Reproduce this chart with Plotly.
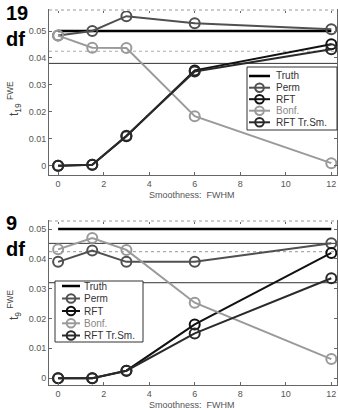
import plotly.graph_objects as go

fwhm = [0, 1.5, 3, 6, 12]

# Top panel (19 df)
top_truth = [0.05, 0.05]
top_perm = [0.0483, 0.050, 0.0555, 0.0529, 0.0507]
top_rft = [0.0, 0.0004, 0.0110, 0.0354, 0.0451]
top_bonf = [0.0483, 0.0438, 0.0437, 0.0184, 0.0010]
top_rfttr = [0.0, 0.0004, 0.0112, 0.0350, 0.0432]
top_ref_solid = [0.038]
top_ref_dotted = [0.0425, 0.0578]

# Bottom panel (9 df)
bot_truth = [0.05, 0.05]
bot_perm = [0.0390, 0.0428, 0.0390, 0.0390, 0.0452]
bot_rft = [0.0, 0.0, 0.0025, 0.0180, 0.0420]
bot_bonf = [0.0432, 0.0470, 0.0430, 0.0253, 0.0064]
bot_rfttr = [0.0, 0.0, 0.0025, 0.0150, 0.0335]
bot_ref_solid = [0.0452, 0.032]
bot_ref_dotted = [0.0424]

truth_x = [0, 12]
names = ["Truth", "Perm", "RFT", "Bonf.", "RFT Tr.Sm."]
colors = ["#000000", "#505050", "#111111", "#9a9a9a", "#2a2a2a"]

W, H = 338, 410
def px_x(p): return p / W
def px_y(p): return 1 - p / H

fig = go.Figure()

def add_panel(xa, ya, truth, series):
    fig.add_trace(go.Scatter(x=truth_x, y=truth, mode="lines", name=names[0],
                             line=dict(color=colors[0], width=2.5),
                             xaxis=xa, yaxis=ya, showlegend=False))
    for nm, col, ys in zip(names[1:], colors[1:], series):
        fig.add_trace(go.Scatter(x=fwhm, y=ys, mode="lines+markers", name=nm,
                                 line=dict(color=col, width=2),
                                 marker=dict(symbol="circle-open", size=10, color=col,
                                             line=dict(width=2, color=col)),
                                 xaxis=xa, yaxis=ya, showlegend=False))

add_panel("x", "y", top_truth, [top_perm, top_rft, top_bonf, top_rfttr])
add_panel("x2", "y2", bot_truth, [bot_perm, bot_rft, bot_bonf, bot_rfttr])

shapes = []
def hline(yv, xref, yref, dash, color, width=1):
    shapes.append(dict(type="line", xref=xref + " domain", yref=yref, x0=0, x1=1,
                       y0=yv, y1=yv, line=dict(color=color, width=width, dash=dash),
                       layer="below"))
for v in top_ref_solid:
    hline(v, "x", "y", "solid", "#333333", 1)
for v in top_ref_dotted:
    hline(v, "x", "y", "dot", "#aaaaaa", 1.2)
for v in bot_ref_solid:
    hline(v, "x2", "y2", "solid", "#333333", 1)
for v in bot_ref_dotted:
    hline(v, "x2", "y2", "dot", "#aaaaaa", 1.2)

# top borders shown dotted
for xr, yr in [("x domain", "y domain"), ("x2 domain", "y2 domain")]:
    shapes.append(dict(type="line", xref=xr, yref=yr, x0=0, x1=1, y0=1, y1=1,
                       line=dict(color="white", width=2), layer="above"))
    shapes.append(dict(type="line", xref=xr, yref=yr, x0=0, x1=1, y0=1, y1=1,
                       line=dict(color="#999999", width=1.2, dash="dot"), layer="above"))

legfont = dict(family="Liberation Sans, Arial", size=10, color="#222222")
annotations = []

def draw_legend(box, rows_y, line_x, text_x):
    x0, y0, x1, y1 = box
    shapes.append(dict(type="rect", xref="paper", yref="paper",
                       x0=px_x(x0), x1=px_x(x1), y0=px_y(y1), y1=px_y(y0),
                       fillcolor="white", line=dict(color="#333333", width=1), layer="above"))
    for i, (nm, col) in enumerate(zip(names, colors)):
        ry = rows_y[i]
        shapes.append(dict(type="line", xref="paper", yref="paper",
                           x0=px_x(line_x[0]), x1=px_x(line_x[1]), y0=px_y(ry), y1=px_y(ry),
                           line=dict(color=col, width=2.5 if i == 0 else 2), layer="above"))
        if i > 0:
            cx = (line_x[0] + line_x[1]) / 2
            r = 4.3
            shapes.append(dict(type="circle", xref="paper", yref="paper",
                               x0=px_x(cx - r), x1=px_x(cx + r), y0=px_y(ry + r), y1=px_y(ry - r),
                               line=dict(color=col, width=2), fillcolor="rgba(0,0,0,0)",
                               layer="above"))
        annotations.append(dict(text=nm, x=px_x(text_x), y=px_y(ry), xanchor="left",
                                yanchor="middle", font=dict(legfont, color="#333333" if i != 3 else "#888888")))

draw_legend((247, 67, 337, 130), [76, 87.7, 99.2, 110.7, 122.3], (249, 270), 274)
draw_legend((55, 281, 143, 342), [286, 298.5, 311, 323.3, 335.5], (62, 80), 82)

xdom = [px_x(49), px_x(337)]
top_dom = [px_y(175), px_y(10)]
bot_dom = [px_y(385), px_y(221)]

axfont = dict(family="Liberation Sans, Arial", size=9, color="#555555")
common_x = dict(range=[-0.4, 12.25], tickvals=[0, 2, 4, 6, 8, 10, 12], ticks="inside",
                ticklen=3, tickcolor="#666666", showline=True, linecolor="#666666",
                linewidth=1, mirror="ticks", showgrid=False, zeroline=False,
                tickfont=axfont, domain=xdom)
common_y = dict(tickvals=[0, 0.01, 0.02, 0.03, 0.04, 0.05],
                ticktext=["0", "0.01", "0.02", "0.03", "0.04", "0.05"],
                ticks="inside", ticklen=3, tickcolor="#666666", showline=True,
                linecolor="#666666", linewidth=1, mirror="ticks", showgrid=False,
                zeroline=False, tickfont=axfont)

big = dict(family="Liberation Sans, Arial", size=20, color="black")
yt_font = dict(family="Liberation Sans, Arial", size=12, color="#444444")
annotations += [
    dict(text="<b>19</b>", x=px_x(4), y=px_y(0), xanchor="left", yanchor="top", font=big),
    dict(text="<b>df</b>", x=px_x(4), y=px_y(26), xanchor="left", yanchor="top", font=big),
    dict(text="<b>9</b>", x=px_x(4), y=px_y(210), xanchor="left", yanchor="top", font=big),
    dict(text="<b>df</b>", x=px_x(4), y=px_y(236), xanchor="left", yanchor="top", font=big),
    dict(text="t<sub>19</sub> <sup>FWE</sup>", x=px_x(14), y=px_y(99), textangle=-90,
         xanchor="center", yanchor="middle", font=yt_font),
    dict(text="t<sub>9</sub> <sup>FWE</sup>", x=px_x(14), y=px_y(305), textangle=-90,
         xanchor="center", yanchor="middle", font=yt_font),
    dict(text="Smoothness:  FWHM", x=px_x(192), y=px_y(195), xanchor="center", yanchor="middle",
         font=dict(family="Liberation Sans, Arial", size=9, color="#555555")),
    dict(text="Smoothness:  FWHM", x=px_x(192), y=px_y(405), xanchor="center", yanchor="middle",
         font=dict(family="Liberation Sans, Arial", size=9, color="#555555")),
]
for a in annotations:
    a.update(xref="paper", yref="paper", showarrow=False)

fig.update_layout(
    width=W, height=H, margin=dict(l=0, r=0, t=0, b=0),
    paper_bgcolor="white", plot_bgcolor="white",
    xaxis=dict(**common_x, anchor="y"),
    yaxis=dict(**common_y, range=[-0.0034, 0.0578], domain=top_dom, anchor="x"),
    xaxis2=dict(**common_x, anchor="y2"),
    yaxis2=dict(**common_y, range=[-0.0023, 0.0527], domain=bot_dom, anchor="x2"),
    shapes=shapes, annotations=annotations, showlegend=False,
)

fig.write_html("out.html")
